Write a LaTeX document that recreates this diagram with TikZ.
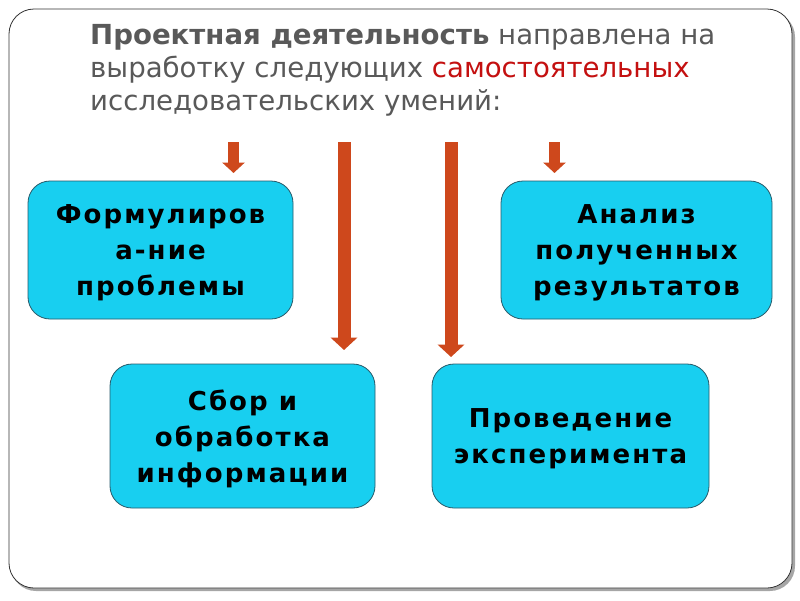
\documentclass[tikz,border=0pt]{standalone}
\usepackage{fontspec}
\newfontfamily\titlefont{DejaVu Sans}
\newfontfamily\boxfont[LetterSpace=8]{DejaVu Sans}
\usetikzlibrary{arrows.meta}
\definecolor{titlegray}{RGB}{89,89,89}
\definecolor{titlered}{RGB}{196,16,16}
\definecolor{boxcyan}{RGB}{24,207,240}
\definecolor{boxline}{RGB}{40,90,105}
\definecolor{arrowred}{RGB}{206,72,28}
\begin{document}
\begin{tikzpicture}[x=1pt,y=-1pt]
\tikzset{skill/.style={draw=boxline,line width=0.8pt,fill=boxcyan,rounded corners=22pt,
                       align=center,text=black,inner sep=0pt,text depth=0pt,
                       font=\boxfont\bfseries\fontsize{26}{36}\selectfont},
         downarrow/.style={draw=arrowred,line width=#1,-{Triangle[width=0pt 2,length=0pt 0.95]}}}
\useasboundingbox (0,0) rectangle (800,600);
% frame with its shadow
\fill[gray!70,rounded corners=25pt] (11,12) rectangle (795,591);
\draw[gray!40!black,fill=white,line width=0.8pt,rounded corners=25pt] (9,9) rectangle (792,588);
\node[anchor=north west,align=left,text=titlegray,inner sep=0pt,
      font=\titlefont\fontsize{27.6}{33}\selectfont] (title) at (90,24)
    {\textbf{Проектная деятельность} направлена на\\
     выработку следующих \textcolor{titlered}{самостоятельных}\\
     исследовательских умений:};
\node[skill,minimum width=265,minimum height=138] (problem) at (160.5,250)
    {Формулиров\\а-ние\\проблемы};
\node[skill,minimum width=271,minimum height=138] (analysis) at (636.5,250)
    {Анализ\\полученных\\результатов};
\node[skill,minimum width=265,minimum height=144] (gather) at (242.5,436)
    {Сбор и\\обработка\\информации};
\node[skill,minimum width=277,minimum height=144] (experiment) at (570.5,436)
    {Проведение\\эксперимента};
% arrows
\coordinate (a1) at (233.5,142);
\coordinate (a2) at (344,142);
\coordinate (a3) at (451,142);
\coordinate (a4) at (554.5,142);
\coordinate (a1tip) at (233.5,173);
\coordinate (a2tip) at (344,350);
\coordinate (a3tip) at (451,357);
\coordinate (a4tip) at (554.5,173);
\draw[downarrow=11pt] (a1) -- (a1tip);
\draw[downarrow=13pt] (a2) -- (a2tip);
\draw[downarrow=13pt] (a3) -- (a3tip);
\draw[downarrow=11pt] (a4) -- (a4tip);
\end{tikzpicture}
\end{document}
